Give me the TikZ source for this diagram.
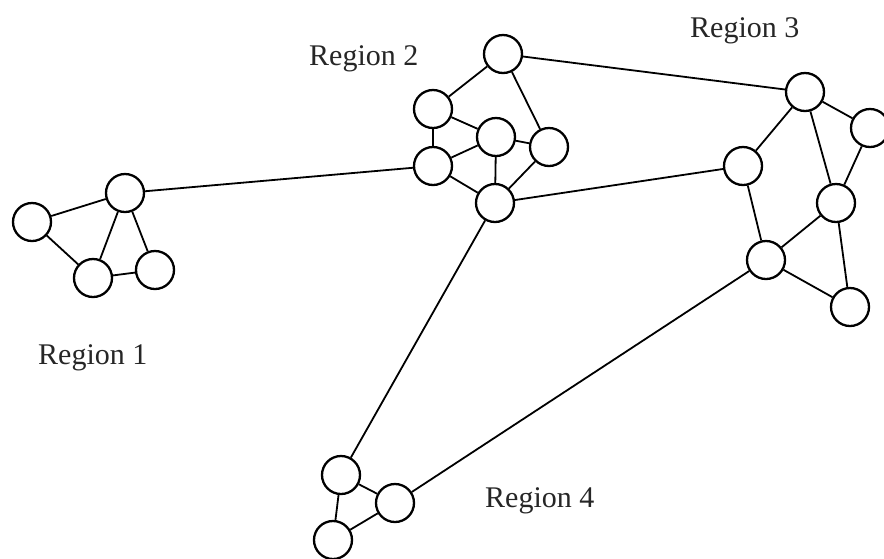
\documentclass[tikz,border=0pt]{standalone}
\usepackage{fontspec}
\setmainfont{Liberation Serif}
\begin{document}
\begin{tikzpicture}[x=1pt,y=-1pt,
  nd/.style={circle,draw=black,line width=2.3pt,minimum size=38pt,inner sep=0pt,fill=white},
  ed/.style={line width=1.8pt},
  lab/.style={anchor=base west,font=\fontsize{30}{32}\selectfont,inner sep=0pt,text=black!85}]
\useasboundingbox (0,0) rectangle (884,558);
% Region 1
\node[nd] (A) at (32,222) {};
\node[nd] (B) at (125,193) {};
\node[nd] (C) at (93,278) {};
\node[nd] (D) at (155,270) {};
% Region 2
\node[nd] (E) at (503,54) {};
\node[nd] (F) at (433,109) {};
\node[nd] (G) at (496,137) {};
\node[nd] (H) at (549,147) {};
\node[nd] (I) at (433,166) {};
\node[nd] (J) at (495,203) {};
% Region 3
\node[nd] (K) at (805,92) {};
\node[nd] (L) at (870,128) {};
\node[nd] (M) at (743,166) {};
\node[nd] (N) at (836,203) {};
\node[nd] (O) at (766,260) {};
\node[nd] (P) at (850,307) {};
% Region 4
\node[nd] (Q) at (341,475) {};
\node[nd] (R) at (395,503) {};
\node[nd] (S) at (333,540) {};
% edges
\draw[ed] (A) -- (B);
\draw[ed] (A) -- (C);
\draw[ed] (B) -- (C);
\draw[ed] (B) -- (D);
\draw[ed] (C) -- (D);
\draw[ed] (B) -- (I);
\draw[ed] (E) -- (F);
\draw[ed] (E) -- (H);
\draw[ed] (E) -- (K);
\draw[ed] (F) -- (G);
\draw[ed] (F) -- (I);
\draw[ed] (I) -- (G);
\draw[ed] (G) -- (H);
\draw[ed] (G) -- (J);
\draw[ed] (H) -- (J);
\draw[ed] (I) -- (J);
\draw[ed] (J) -- (M);
\draw[ed] (J) -- (Q);
\draw[ed] (K) -- (L);
\draw[ed] (K) -- (M);
\draw[ed] (K) -- (N);
\draw[ed] (L) -- (N);
\draw[ed] (M) -- (O);
\draw[ed] (N) -- (O);
\draw[ed] (N) -- (P);
\draw[ed] (O) -- (P);
\draw[ed] (O) -- (R);
\draw[ed] (Q) -- (R);
\draw[ed] (Q) -- (S);
\draw[ed] (S) -- (R);
% labels
\node[lab] (L1) at (38,364) {Region 1};
\node[lab] (L2) at (309,65) {Region 2};
\node[lab] (L3) at (690,37) {Region 3};
\node[lab] (L4) at (485,507) {Region 4};
\end{tikzpicture}
\end{document}
